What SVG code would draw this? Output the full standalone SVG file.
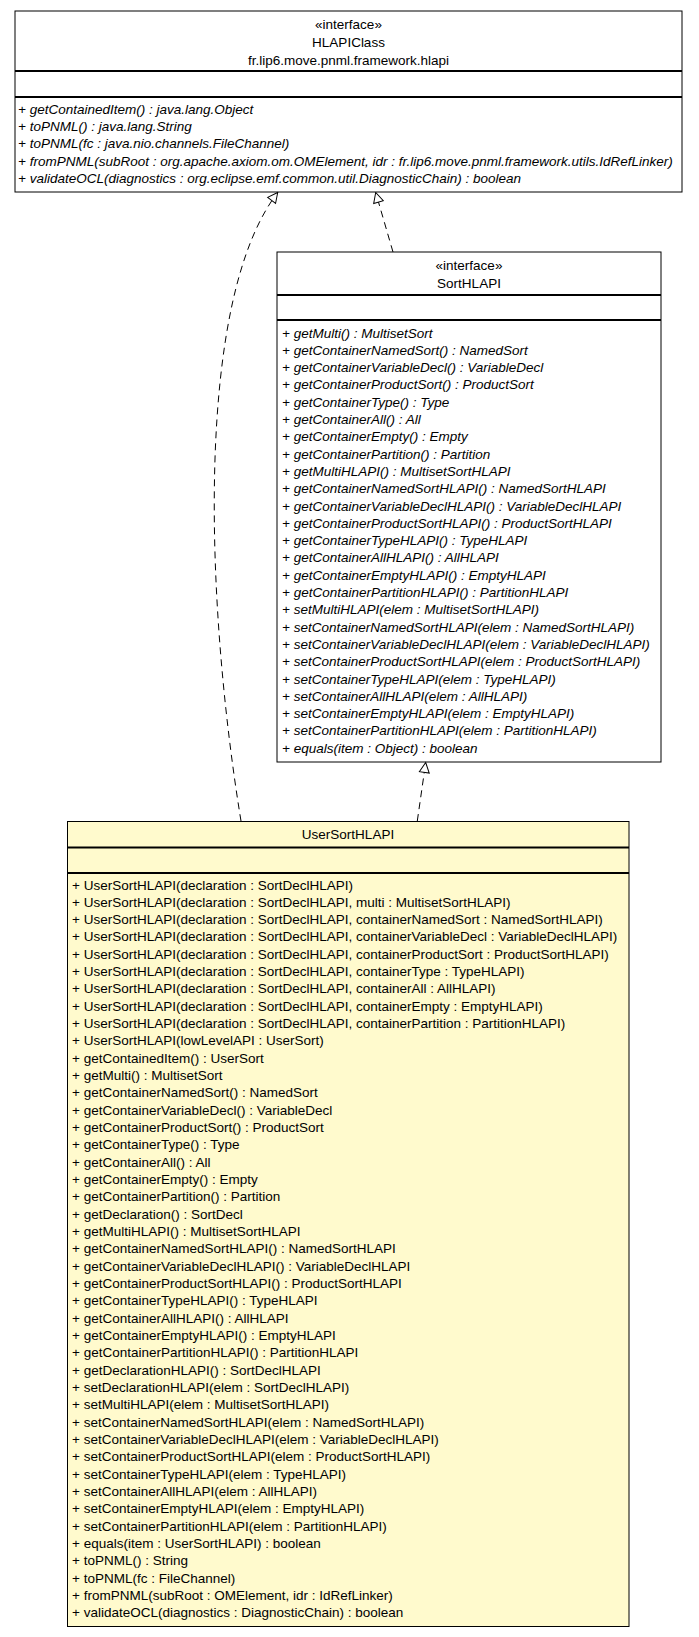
<svg xmlns="http://www.w3.org/2000/svg" width="699" height="1637" viewBox="0 0 699 1637">
<style>
.box{stroke:#000;stroke-width:1}
.div{stroke:#000;stroke-width:1.8}
text{font-family:"Liberation Sans",Arial,sans-serif;font-size:13.5px;fill:#000}
.c{text-anchor:middle}
.i{font-style:italic}
.edge{fill:none;stroke:#000;stroke-width:1;stroke-dasharray:7,5}
</style>
<defs>
<marker id="tri" viewBox="0 0 12 12" refX="11" refY="6" markerWidth="12" markerHeight="12" markerUnits="userSpaceOnUse" orient="auto">
<path d="M1,1 L11,6 L1,11 Z" fill="#fff" stroke="#000" stroke-width="1"/>
</marker>
</defs>
<g id="HLAPIClass">
<rect class="box" x="15" y="11" width="667" height="181" fill="#fff"/>
<line class="div" x1="15" y1="71" x2="682" y2="71"/>
<line class="div" x1="15" y1="97" x2="682" y2="97"/>
<text class="c" x="348.5" y="28.5">«interface»</text>
<text class="c" x="348.5" y="46.5">HLAPIClass</text>
<text class="c" x="348.5" y="64.5">fr.lip6.move.pnml.framework.hlapi</text>
<text class="i" x="18" y="113.5">
<tspan x="18" dy="0">+ getContainedItem() : java.lang.Object</tspan>
<tspan x="18" dy="17.4">+ toPNML() : java.lang.String</tspan>
<tspan x="18" dy="17.4">+ toPNML(fc : java.nio.channels.FileChannel)</tspan>
<tspan x="18" dy="17.4">+ fromPNML(subRoot : org.apache.axiom.om.OMElement, idr : fr.lip6.move.pnml.framework.utils.IdRefLinker)</tspan>
<tspan x="18" dy="17.4">+ validateOCL(diagnostics : org.eclipse.emf.common.util.DiagnosticChain) : boolean</tspan>
</text>
</g>
<g id="SortHLAPI">
<rect class="box" x="277" y="252" width="384" height="510" fill="#fff"/>
<line class="div" x1="277" y1="295" x2="661" y2="295"/>
<line class="div" x1="277" y1="320" x2="661" y2="320"/>
<text class="c" x="469" y="269.5">«interface»</text>
<text class="c" x="469" y="287.5">SortHLAPI</text>
<text class="i" x="282" y="337.5">
<tspan x="282" dy="0">+ getMulti() : MultisetSort</tspan>
<tspan x="282" dy="17.3">+ getContainerNamedSort() : NamedSort</tspan>
<tspan x="282" dy="17.3">+ getContainerVariableDecl() : VariableDecl</tspan>
<tspan x="282" dy="17.3">+ getContainerProductSort() : ProductSort</tspan>
<tspan x="282" dy="17.3">+ getContainerType() : Type</tspan>
<tspan x="282" dy="17.3">+ getContainerAll() : All</tspan>
<tspan x="282" dy="17.3">+ getContainerEmpty() : Empty</tspan>
<tspan x="282" dy="17.3">+ getContainerPartition() : Partition</tspan>
<tspan x="282" dy="17.3">+ getMultiHLAPI() : MultisetSortHLAPI</tspan>
<tspan x="282" dy="17.3">+ getContainerNamedSortHLAPI() : NamedSortHLAPI</tspan>
<tspan x="282" dy="17.3">+ getContainerVariableDeclHLAPI() : VariableDeclHLAPI</tspan>
<tspan x="282" dy="17.3">+ getContainerProductSortHLAPI() : ProductSortHLAPI</tspan>
<tspan x="282" dy="17.3">+ getContainerTypeHLAPI() : TypeHLAPI</tspan>
<tspan x="282" dy="17.3">+ getContainerAllHLAPI() : AllHLAPI</tspan>
<tspan x="282" dy="17.3">+ getContainerEmptyHLAPI() : EmptyHLAPI</tspan>
<tspan x="282" dy="17.3">+ getContainerPartitionHLAPI() : PartitionHLAPI</tspan>
<tspan x="282" dy="17.3">+ setMultiHLAPI(elem : MultisetSortHLAPI)</tspan>
<tspan x="282" dy="17.3">+ setContainerNamedSortHLAPI(elem : NamedSortHLAPI)</tspan>
<tspan x="282" dy="17.3">+ setContainerVariableDeclHLAPI(elem : VariableDeclHLAPI)</tspan>
<tspan x="282" dy="17.3">+ setContainerProductSortHLAPI(elem : ProductSortHLAPI)</tspan>
<tspan x="282" dy="17.3">+ setContainerTypeHLAPI(elem : TypeHLAPI)</tspan>
<tspan x="282" dy="17.3">+ setContainerAllHLAPI(elem : AllHLAPI)</tspan>
<tspan x="282" dy="17.3">+ setContainerEmptyHLAPI(elem : EmptyHLAPI)</tspan>
<tspan x="282" dy="17.3">+ setContainerPartitionHLAPI(elem : PartitionHLAPI)</tspan>
<tspan x="282" dy="17.3">+ equals(item : Object) : boolean</tspan>
</text>
</g>
<g id="UserSortHLAPI">
<rect class="box" x="67.5" y="821.5" width="561.5" height="805" fill="#fffacd"/>
<line class="div" x1="67.5" y1="847.5" x2="629" y2="847.5"/>
<line class="div" x1="67.5" y1="873" x2="629" y2="873"/>
<text class="c" x="348" y="838.5">UserSortHLAPI</text>
<text x="72" y="889.5">
<tspan x="72" dy="0">+ UserSortHLAPI(declaration : SortDeclHLAPI)</tspan>
<tspan x="72" dy="17.33">+ UserSortHLAPI(declaration : SortDeclHLAPI, multi : MultisetSortHLAPI)</tspan>
<tspan x="72" dy="17.33">+ UserSortHLAPI(declaration : SortDeclHLAPI, containerNamedSort : NamedSortHLAPI)</tspan>
<tspan x="72" dy="17.33">+ UserSortHLAPI(declaration : SortDeclHLAPI, containerVariableDecl : VariableDeclHLAPI)</tspan>
<tspan x="72" dy="17.33">+ UserSortHLAPI(declaration : SortDeclHLAPI, containerProductSort : ProductSortHLAPI)</tspan>
<tspan x="72" dy="17.33">+ UserSortHLAPI(declaration : SortDeclHLAPI, containerType : TypeHLAPI)</tspan>
<tspan x="72" dy="17.33">+ UserSortHLAPI(declaration : SortDeclHLAPI, containerAll : AllHLAPI)</tspan>
<tspan x="72" dy="17.33">+ UserSortHLAPI(declaration : SortDeclHLAPI, containerEmpty : EmptyHLAPI)</tspan>
<tspan x="72" dy="17.33">+ UserSortHLAPI(declaration : SortDeclHLAPI, containerPartition : PartitionHLAPI)</tspan>
<tspan x="72" dy="17.33">+ UserSortHLAPI(lowLevelAPI : UserSort)</tspan>
<tspan x="72" dy="17.33">+ getContainedItem() : UserSort</tspan>
<tspan x="72" dy="17.33">+ getMulti() : MultisetSort</tspan>
<tspan x="72" dy="17.33">+ getContainerNamedSort() : NamedSort</tspan>
<tspan x="72" dy="17.33">+ getContainerVariableDecl() : VariableDecl</tspan>
<tspan x="72" dy="17.33">+ getContainerProductSort() : ProductSort</tspan>
<tspan x="72" dy="17.33">+ getContainerType() : Type</tspan>
<tspan x="72" dy="17.33">+ getContainerAll() : All</tspan>
<tspan x="72" dy="17.33">+ getContainerEmpty() : Empty</tspan>
<tspan x="72" dy="17.33">+ getContainerPartition() : Partition</tspan>
<tspan x="72" dy="17.33">+ getDeclaration() : SortDecl</tspan>
<tspan x="72" dy="17.33">+ getMultiHLAPI() : MultisetSortHLAPI</tspan>
<tspan x="72" dy="17.33">+ getContainerNamedSortHLAPI() : NamedSortHLAPI</tspan>
<tspan x="72" dy="17.33">+ getContainerVariableDeclHLAPI() : VariableDeclHLAPI</tspan>
<tspan x="72" dy="17.33">+ getContainerProductSortHLAPI() : ProductSortHLAPI</tspan>
<tspan x="72" dy="17.33">+ getContainerTypeHLAPI() : TypeHLAPI</tspan>
<tspan x="72" dy="17.33">+ getContainerAllHLAPI() : AllHLAPI</tspan>
<tspan x="72" dy="17.33">+ getContainerEmptyHLAPI() : EmptyHLAPI</tspan>
<tspan x="72" dy="17.33">+ getContainerPartitionHLAPI() : PartitionHLAPI</tspan>
<tspan x="72" dy="17.33">+ getDeclarationHLAPI() : SortDeclHLAPI</tspan>
<tspan x="72" dy="17.33">+ setDeclarationHLAPI(elem : SortDeclHLAPI)</tspan>
<tspan x="72" dy="17.33">+ setMultiHLAPI(elem : MultisetSortHLAPI)</tspan>
<tspan x="72" dy="17.33">+ setContainerNamedSortHLAPI(elem : NamedSortHLAPI)</tspan>
<tspan x="72" dy="17.33">+ setContainerVariableDeclHLAPI(elem : VariableDeclHLAPI)</tspan>
<tspan x="72" dy="17.33">+ setContainerProductSortHLAPI(elem : ProductSortHLAPI)</tspan>
<tspan x="72" dy="17.33">+ setContainerTypeHLAPI(elem : TypeHLAPI)</tspan>
<tspan x="72" dy="17.33">+ setContainerAllHLAPI(elem : AllHLAPI)</tspan>
<tspan x="72" dy="17.33">+ setContainerEmptyHLAPI(elem : EmptyHLAPI)</tspan>
<tspan x="72" dy="17.33">+ setContainerPartitionHLAPI(elem : PartitionHLAPI)</tspan>
<tspan x="72" dy="17.33">+ equals(item : UserSortHLAPI) : boolean</tspan>
<tspan x="72" dy="17.33">+ toPNML() : String</tspan>
<tspan x="72" dy="17.33">+ toPNML(fc : FileChannel)</tspan>
<tspan x="72" dy="17.33">+ fromPNML(subRoot : OMElement, idr : IdRefLinker)</tspan>
<tspan x="72" dy="17.33">+ validateOCL(diagnostics : DiagnosticChain) : boolean</tspan>
</text>
</g>
<g id="connectors">
<path class="edge" d="M241,821 C205,600 195,300 277.7,192.5" marker-end="url(#tri)"/>
<path class="edge" d="M393,252 L375.7,192.5" marker-end="url(#tri)"/>
<path class="edge" d="M417.3,821 L425.7,762.5" marker-end="url(#tri)"/>
</g>
</svg>
